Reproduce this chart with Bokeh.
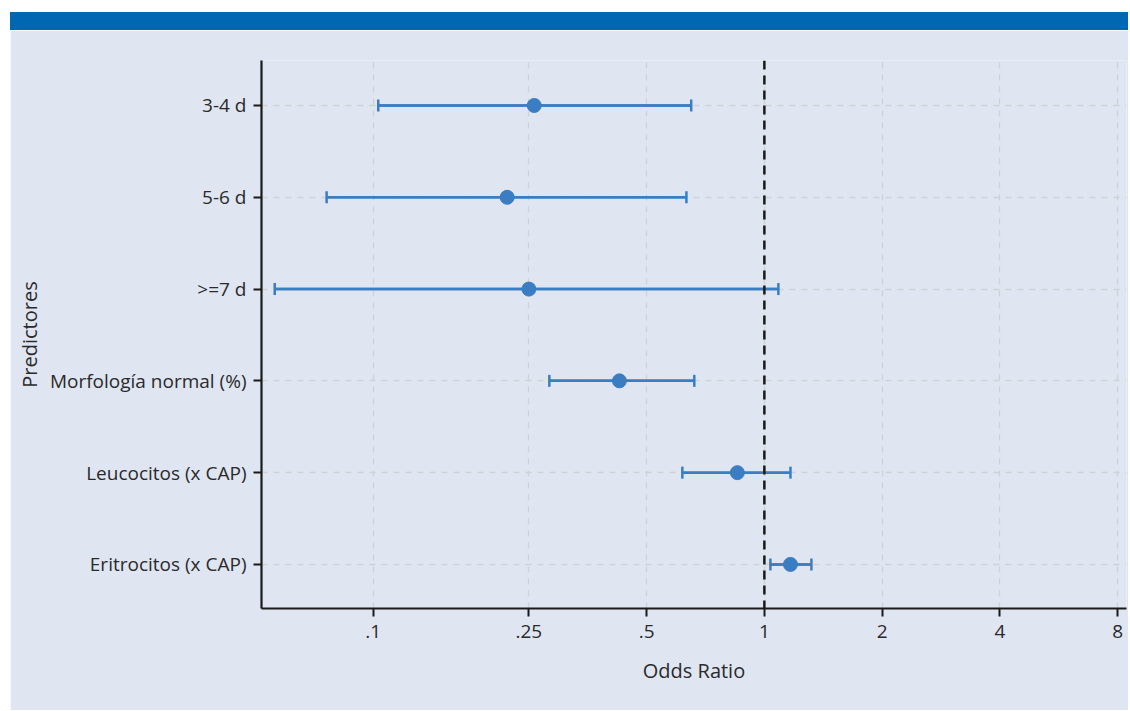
from bokeh.plotting import figure
from bokeh.models import Div, Range1d, FixedTicker, Whisker, ColumnDataSource, Span
from bokeh.layouts import column
from bokeh.embed import file_html
from bokeh.resources import INLINE

# Data
predictors = ["3-4 d", "5-6 d", ">=7 d", "Morfología normal (%)", "Leucocitos (x CAP)", "Eritrocitos (x CAP)"]
odds_ratio = [0.258, 0.220, 0.250, 0.426, 0.853, 1.166]
ci_lower = [0.103, 0.076, 0.056, 0.282, 0.617, 1.036]
ci_upper = [0.650, 0.632, 1.086, 0.662, 1.166, 1.319]
x_ticks = [0.1, 0.25, 0.5, 1, 2, 4, 8]
x_tick_labels = [".1", ".25", ".5", "1", "2", "4", "8"]

FONT = "Open Sans"
BG = "#dfe6f2"
BLUE = "#3b7dc3"
TXT = "#2a2a2a"

n = len(predictors)
ypos = [n - i for i in range(n)]
src = ColumnDataSource(dict(y=ypos, orr=odds_ratio, lo=ci_lower, hi=ci_upper))

p = figure(width=1118, height=680, x_axis_type="log",
           x_range=Range1d(0.0518, 8.43), y_range=Range1d(0.52, 6.49),
           output_backend="svg", toolbar_location=None,
           background_fill_color=BG, border_fill_color=BG,
           min_border_left=251, min_border_right=2, min_border_top=30, min_border_bottom=102)
p.outline_line_color = None

p.xaxis.ticker = FixedTicker(ticks=x_ticks)
p.xaxis.major_label_overrides = {t: l for t, l in zip(x_ticks, x_tick_labels)}
p.yaxis.ticker = FixedTicker(ticks=ypos)
p.yaxis.major_label_overrides = {y: name for y, name in zip(ypos, predictors)}
for g in (p.xgrid, p.ygrid):
    g.grid_line_color = "#cfd1d4"
    g.grid_line_dash = "6 6"
    g.grid_line_width = 1.3
p.xaxis.minor_tick_line_color = None

for ax in (p.xaxis, p.yaxis):
    ax.axis_line_color = "#1a1a1a"
    ax.axis_line_width = 2.2
    ax.major_tick_line_color = "#1a1a1a"
    ax.major_tick_line_width = 2
    ax.major_tick_in = 0
    ax.major_tick_out = 8
    ax.major_label_text_font = FONT
    ax.major_label_text_font_size = "19px"
    ax.major_label_text_color = TXT
    ax.axis_label_text_font = FONT
    ax.axis_label_text_font_size = "20px"
    ax.axis_label_text_font_style = "normal"
    ax.axis_label_text_color = TXT
p.xaxis.major_label_standoff = 8
p.yaxis.major_label_standoff = 7
p.xaxis.axis_label = "Odds Ratio"
p.xaxis.axis_label_standoff = 16
p.yaxis.axis_label = "Predictores"
p.yaxis.axis_label_standoff = 4

p.add_layout(Span(location=1, dimension="height", line_color="#1a1a1a",
                  line_width=2.5, line_dash="9 6"))

p.segment(x0="lo", x1="hi", y0="y", y1="y", source=src, line_color=BLUE, line_width=2.5)
w = Whisker(base="y", lower="lo", upper="hi", source=src, dimension="width",
            line_color=BLUE, line_width=2.5)
for h in (w.upper_head, w.lower_head):
    h.size = 12
    h.line_color = BLUE
    h.line_width = 2.5
p.add_layout(w)
p.scatter(x="orr", y="y", source=src, size=14, fill_color=BLUE, line_color=BLUE)

bar = Div(text="", width=1118, height=18,
          styles={"background-color": "#0068b3"}, margin=(12, 0, 0, 10))
p.margin = (0, 0, 0, 10)
layout = column(bar, p, spacing=0)

open("out.html", "w").write(file_html(layout, INLINE))
